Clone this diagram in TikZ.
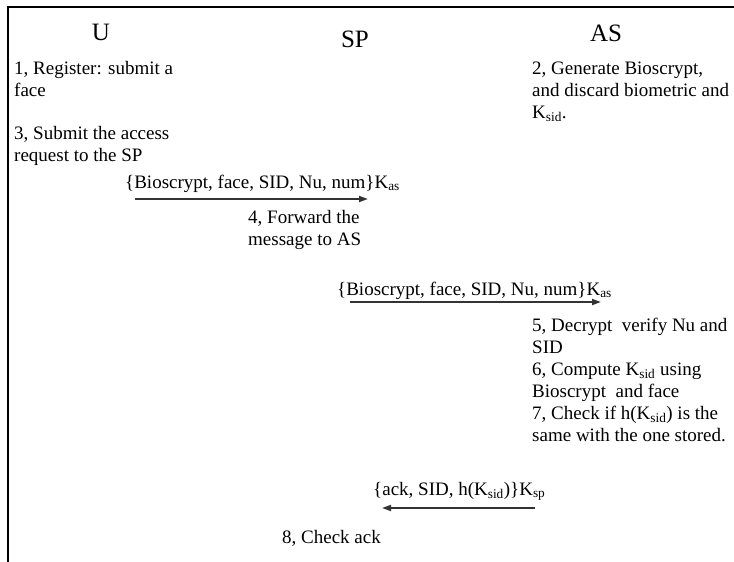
\documentclass[tikz,border=0pt]{standalone}
\usepackage{fontspec}
\setmainfont{Liberation Serif}
\usetikzlibrary{arrows.meta}
\tikzset{
  txt/.style={anchor=base west, inner sep=0pt, font=\fontsize{19}{22}\selectfont},
  head/.style={anchor=base, inner sep=0pt, font=\fontsize{25}{28}\selectfont},
  msg/.style={line width=1.8pt, draw=black!80, -{Triangle[length=9pt,width=6pt]}},
  frame/.style={line width=1.6pt, draw=black}
}
\begin{document}
\begin{tikzpicture}[x=1pt,y=-1pt]
\useasboundingbox (0,0) rectangle (734,562);
% frame
\coordinate (fl) at (8,562);
\coordinate (fc) at (8,7);
\coordinate (fr) at (734,7);
\draw[frame] (fl) -- (fc) -- (fr);
% headers
\node[head] (hU) at (101,40) {U};
\node[head] (hSP) at (355,47) {SP};
\node[head] (hAS) at (606,41) {AS};
% U side
\node[txt] (u1) at (14,74) {1, Register: submit a};
\node[txt] (u2) at (14,96) {face};
\node[txt] (u3) at (14,139) {3, Submit the access};
\node[txt] (u4) at (14,161) {request to the SP};
% AS side
\node[txt] (a1) at (532,74) {2, Generate Bioscrypt,};
\node[txt] (a2) at (532,96) {and discard biometric and};
\node[txt] (a3) at (532,118) {K\textsubscript{sid}.};
% message 1
\node[txt] (m1) at (125,188) {\{Bioscrypt, face, SID, Nu, num\}K\textsubscript{as}};
\coordinate (m1s) at (135,199);
\coordinate (m1e) at (368,199);
\draw[msg] (m1s) -- (m1e);
% SP step 4
\node[txt] (s1) at (248,223) {4, Forward the};
\node[txt] (s2) at (248,245) {message to AS};
% message 2
\node[txt] (m2) at (337,295) {\{Bioscrypt, face, SID, Nu, num\}K\textsubscript{as}};
\coordinate (m2s) at (350,302);
\coordinate (m2e) at (601,302);
\draw[msg] (m2s) -- (m2e);
% AS steps
\node[txt] (b1) at (532,331) {5, Decrypt\ \ verify Nu and};
\node[txt] (b2) at (532,353) {SID};
\node[txt] (b3) at (532,375) {6, Compute K\textsubscript{sid} using};
\node[txt] (b4) at (532,397) {Bioscrypt\ \ and face};
\node[txt] (b5) at (532,419) {7, Check if h(K\textsubscript{sid}) is the};
\node[txt] (b6) at (532,441) {same with the one stored.};
% message 3
\node[txt] (m3) at (373,495) {\{ack, SID, h(K\textsubscript{sid})\}K\textsubscript{sp}};
\coordinate (m3s) at (535,508);
\coordinate (m3e) at (382,508);
\draw[msg] (m3s) -- (m3e);
% step 8
\node[txt] (c1) at (282,543) {8, Check ack};
\end{tikzpicture}
\end{document}
